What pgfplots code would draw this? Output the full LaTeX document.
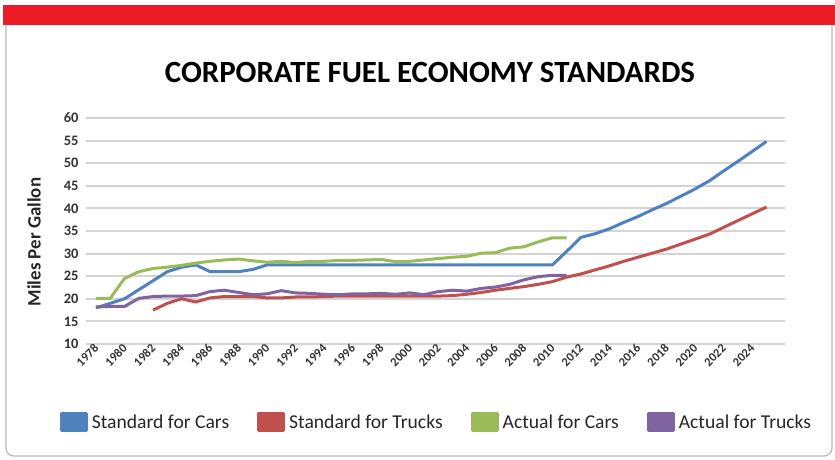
\documentclass[border=0pt]{standalone}
\usepackage{pgfplots}
\pgfplotsset{compat=1.18}
\usepackage{pgfplotstable}
\usepackage{fontspec}
\setmainfont{Carlito}
\definecolor{cblue}{HTML}{4F81BD}
\definecolor{cred}{HTML}{C0504D}
\definecolor{cgreen}{HTML}{9BBB59}
\definecolor{cpurple}{HTML}{8064A2}
\definecolor{topred}{HTML}{ED1C24}

\pgfplotstableread{
year val
1978 18.0
1979 19.0
1980 20.0
1981 22.0
1982 24.0
1983 26.0
1984 27.0
1985 27.5
1986 26.0
1987 26.0
1988 26.0
1989 26.5
1990 27.5
1991 27.5
1992 27.5
1993 27.5
1994 27.5
1995 27.5
1996 27.5
1997 27.5
1998 27.5
1999 27.5
2000 27.5
2001 27.5
2002 27.5
2003 27.5
2004 27.5
2005 27.5
2006 27.5
2007 27.5
2008 27.5
2009 27.5
2010 27.5
2011 30.5
2012 33.6
2013 34.4
2014 35.5
2015 36.9
2016 38.2
2017 39.7
2018 41.1
2019 42.7
2020 44.3
2021 46.1
2022 48.3
2023 50.4
2024 52.6
2025 54.8
}\stdcars

\pgfplotstableread{
year val
1982 17.5
1983 19.0
1984 20.0
1985 19.3
1986 20.2
1987 20.5
1988 20.5
1989 20.5
1990 20.2
1991 20.2
1992 20.4
1993 20.4
1994 20.5
1995 20.6
1996 20.6
1997 20.6
1998 20.6
1999 20.6
2000 20.6
2001 20.6
2002 20.6
2003 20.7
2004 21.0
2005 21.4
2006 21.9
2007 22.3
2008 22.7
2009 23.2
2010 23.8
2011 24.8
2012 25.5
2013 26.4
2014 27.3
2015 28.3
2016 29.2
2017 30.1
2018 31.0
2019 32.1
2020 33.2
2021 34.3
2022 35.8
2023 37.3
2024 38.8
2025 40.3
}\stdtrucks

\pgfplotstableread{
year val
1978 20.1
1979 20.1
1980 24.5
1981 26.0
1982 26.7
1983 27.0
1984 27.4
1985 27.9
1986 28.3
1987 28.6
1988 28.8
1989 28.4
1990 28.1
1991 28.3
1992 28.0
1993 28.3
1994 28.3
1995 28.5
1996 28.5
1997 28.6
1998 28.7
1999 28.2
2000 28.3
2001 28.6
2002 28.9
2003 29.2
2004 29.4
2005 30.1
2006 30.2
2007 31.2
2008 31.5
2009 32.6
2010 33.5
2011 33.5
}\actcars

\pgfplotstableread{
year val
1978 18.2
1979 18.3
1980 18.3
1981 20.1
1982 20.5
1983 20.6
1984 20.6
1985 20.7
1986 21.6
1987 21.9
1988 21.4
1989 20.9
1990 21.1
1991 21.8
1992 21.3
1993 21.2
1994 21.0
1995 20.9
1996 21.1
1997 21.1
1998 21.2
1999 21.0
2000 21.3
2001 20.9
2002 21.6
2003 21.9
2004 21.7
2005 22.3
2006 22.6
2007 23.2
2008 24.2
2009 24.9
2010 25.2
2011 25.2
}\acttrucks

\begin{document}
\begin{tikzpicture}
\path[use as bounding box] (0bp,0bp) rectangle (835bp,460bp);
\fill[topred] (3bp,435bp) rectangle (835bp,455bp);
\draw[gray!55, line width=1.2bp, rounded corners=8bp] (6bp,435bp) -- (6bp,4bp) -- (832bp,4bp) -- (832bp,435bp);
\node[font=\fontsize{31}{34}\selectfont\bfseries] at (430bp,388bp) {CORPORATE FUEL ECONOMY STANDARDS};
\node[font=\fontsize{19}{22}\selectfont\bfseries, rotate=90, text=black!85] at (34bp,218bp) {Miles Per Gallon};
\begin{axis}[
  at={(86bp,116bp)}, anchor=south west,
  scale only axis, width=699bp, height=226bp,
  xmin=1977.3, xmax=2026.3, ymin=10, ymax=60,
  ytick={10,15,...,60},
  xtick={1978,1980,...,2024},
  xticklabel={\pgfmathprintnumber[1000 sep={}]{\tick}},
  axis line style={draw=none},
  major tick length=0pt,
  ymajorgrids,
  major grid style={draw=black!17, line width=2bp},
  yticklabel style={font=\fontsize{14.5}{16}\selectfont\bfseries, text=black!80, xshift=-4bp},
  xticklabel style={font=\fontsize{12.5}{14}\selectfont\bfseries, text=black!80, rotate=45, anchor=east, yshift=-2bp, xshift=2bp},
  /pgf/number format/assume math mode=true,
  every axis plot/.append style={line width=3bp, line join=round, no markers},
  legend columns=4,
  legend style={at={(axis description cs:0.5014,-0.345)}, anchor=center, draw=none, fill=none,
    font=\fontsize{19.7}{23}\selectfont, text=black!85,
    /tikz/every odd column/.append style={column sep=2bp},
    /tikz/every even column/.append style={column sep=26bp}},
  legend image code/.code={\fill[#1] (0bp,-8.5bp) rectangle (25bp,8.5bp);},
]
\addplot[cblue] table[x=year,y=val] {\stdcars};
\addplot[cred] table[x=year,y=val] {\stdtrucks};
\addplot[cgreen] table[x=year,y=val] {\actcars};
\addplot[cpurple] table[x=year,y=val] {\acttrucks};
\legend{Standard for Cars, Standard for Trucks, Actual for Cars, Actual for Trucks}
\end{axis}
\end{tikzpicture}
\end{document}
